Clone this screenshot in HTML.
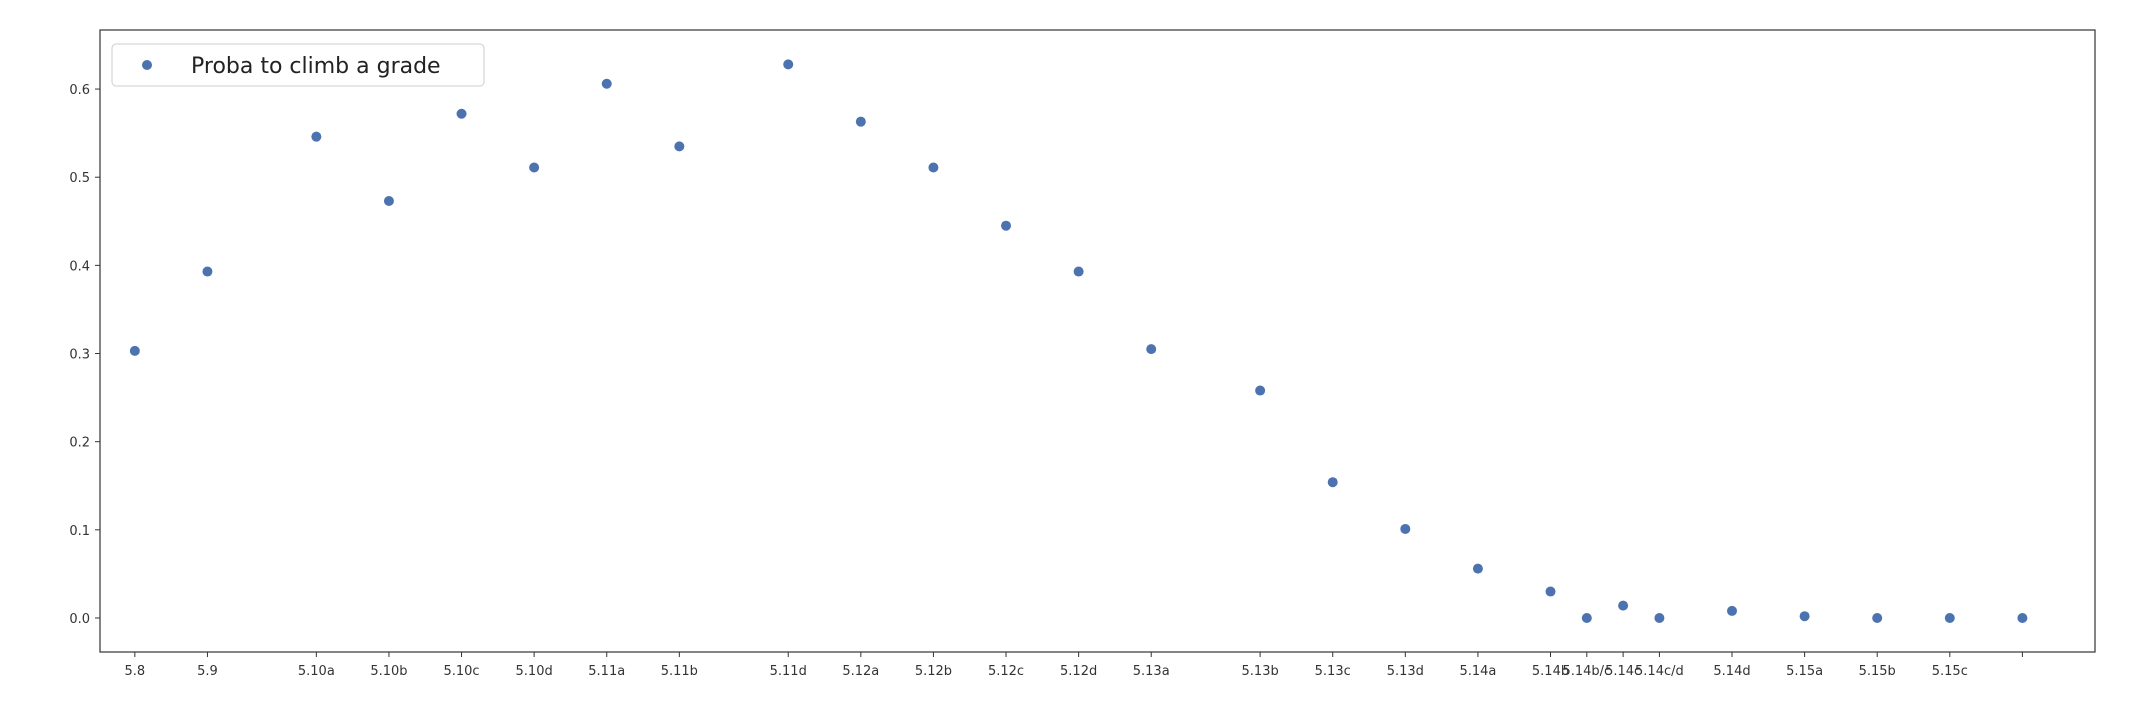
<!DOCTYPE html>
<html><head><meta charset="utf-8"><style>
html,body{margin:0;padding:0;background:#fff;}
svg{display:block;font-family:"DejaVu Sans","Liberation Sans",sans-serif;}
</style></head><body>
<svg id="chart" width="2150" height="706">
<rect x="100" y="30" width="1995" height="622" fill="#fff" stroke="#333" stroke-width="1.2"/>
<g id="yaxis"></g>
<g id="xaxis"></g>
<g id="points"></g>
<g>
<rect x="112" y="44" width="372" height="42" rx="4" fill="#fff" stroke="#ccc"/>
<circle cx="147" cy="65" r="5" fill="#4C72B0"/>
<text x="191" y="73" font-size="22" fill="#222">Proba to climb a grade</text>
</g>
</svg>
<script>
const categories=["5.8","5.9","5.10a","5.10b","5.10c","5.10d","5.11a","5.11b","5.11d","5.12a","5.12b","5.12c","5.12d","5.13a","5.13b","5.13c","5.13d","5.14a","5.14b","5.14b/c","5.14c","5.14c/d","5.14d","5.15a","5.15b","5.15c",""];
const xPos=[0,1,2.5,3.5,4.5,5.5,6.5,7.5,9,10,11,12,13,14,15.5,16.5,17.5,18.5,19.5,20,20.5,21,22,23,24,25,26];
const values=[0.303,0.393,0.546,0.473,0.572,0.511,0.606,0.535,0.628,0.563,0.511,0.445,0.393,0.305,0.258,0.154,0.101,0.056,0.030,0,0.014,0,0.008,0.002,0,0,0];
const yTicks=[0.0,0.1,0.2,0.3,0.4,0.5,0.6];
const NS="http://www.w3.org/2000/svg";
const X0=100,X1=2095,Y0=30,Y1=652;
const xmin=-0.48,xmax=27.0,ymin=-0.0386,ymax=0.667;
function sx(v){return X0+(v-xmin)/(xmax-xmin)*(X1-X0);}
function sy(v){return Y1-(v-ymin)/(ymax-ymin)*(Y1-Y0);}
function mk(t,a){const e=document.createElementNS(NS,t);for(const k in a)e.setAttribute(k,a[k]);return e;}
const ya=document.getElementById('yaxis'),xa=document.getElementById('xaxis'),pg=document.getElementById('points');
yTicks.forEach(t=>{
 const y=sy(t);
 const l=mk('line',{x1:95,x2:100,y1:y,y2:y,stroke:'#333'});
 
 
 ya.appendChild(l);
 const tx=mk('text',{x:90,y:y+5,'text-anchor':'end','font-size':13,fill:'#333'});
 tx.textContent=t.toFixed(1);
 
 
 ya.appendChild(tx);
});
categories.forEach((c,i)=>{
 const x=sx(xPos[i]);
 const l=mk('line',{x1:x,x2:x,y1:652,y2:657,stroke:'#333'});
 
 
 xa.appendChild(l);
 const tx=mk('text',{x:x,y:675,'text-anchor':'middle','font-size':13,fill:'#333'});
 tx.textContent=c;
 
 
 xa.appendChild(tx);
 const p=mk('circle',{cx:x,cy:sy(values[i]),r:5,fill:'#4C72B0'});
 
 
 pg.appendChild(p);
});
</script>
</body></html>
